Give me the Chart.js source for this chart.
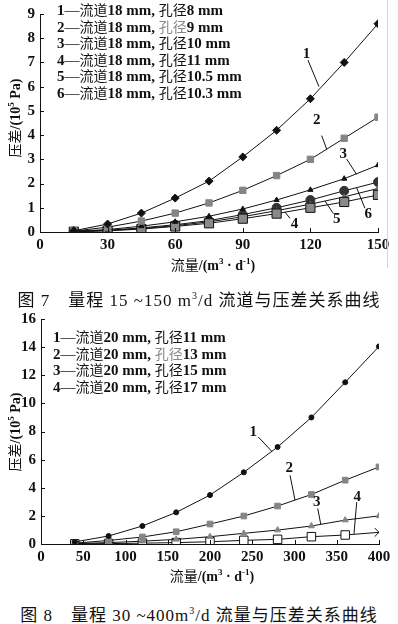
<!DOCTYPE html>
<html lang="zh">
<head>
<meta charset="UTF-8">
<title>流道与压差关系曲线</title>
<script src="https://cdn.jsdelivr.net/npm/chart.js"></script>
<style>
  body { margin: 0; background: #fff; }
  #page { position: relative; width: 398px; height: 624px; overflow: hidden;
          font-family: "Liberation Serif", "Noto Sans CJK SC", serif; color: #111; }
  canvas { position: absolute; left: 0; }
  .legend { position: absolute; font-size: 15px; line-height: 15.5px; white-space: nowrap; }
  .legend b { font-weight: bold; }
  .legend .cjk { font-family: "Noto Sans CJK SC"; font-weight: 400; font-size: 14px; }
  .ytitle { position: absolute; font-size: 14px; white-space: nowrap;
            transform: translate(-50%, -50%) rotate(-90deg); }
  .xtitle { position: absolute; font-size: 14px; white-space: nowrap; transform: translate(-50%, -50%); }
  .cap { position: absolute; left: 0; width: 398px; text-align: center; font-size: 17px; letter-spacing: 1px; white-space: nowrap; }
  .cap .cjk { font-family: "Noto Sans CJK SC"; }
</style>
</head>
<body>
<div id="page">
  <canvas id="fig7" width="398" height="275" style="top:0"></canvas>
  <canvas id="fig8" width="398" height="280" style="top:305px"></canvas>
  <div style="position:absolute;left:387px;top:0;width:1px;height:268px;background:#d4d4d4"></div>

  <div class="legend" id="leg7" style="left:57px;top:2px"></div>
  <div class="legend" id="leg8" style="left:53px;top:329px"></div>

  <div class="ytitle" style="left:14px;top:118px"><span style="font-family:'Noto Sans CJK SC'">压差</span><b>/(10<sup style="font-size:9px">5</sup> Pa)</b></div>
  <div class="ytitle" style="left:14px;top:432px"><span style="font-family:'Noto Sans CJK SC'">压差</span><b>/(10<sup style="font-size:9px">5</sup> Pa)</b></div>
  <div class="xtitle" style="left:213px;top:264px"><span style="font-family:'Noto Sans CJK SC'">流量</span><b>/(m<sup style="font-size:9px">3</sup> · d<sup style="font-size:9px">-1</sup>)</b></div>
  <div class="xtitle" style="left:212px;top:575px"><span style="font-family:'Noto Sans CJK SC'">流量</span><b>/(m<sup style="font-size:9px">3</sup> · d<sup style="font-size:9px">-1</sup>)</b></div>

  <div class="cap" style="top:286px"><span class="cjk">图</span> 7　<span class="cjk">量程</span> 15 ~150 m<sup style="font-size:10px">3</sup>/d <span class="cjk">流道与压差关系曲线</span></div>
  <div class="cap" style="top:601px"><span class="cjk">图</span> 8　<span class="cjk">量程</span> 30 ~400m<sup style="font-size:10px">3</sup>/d <span class="cjk">流量与压差关系曲线</span></div>
</div>

<script>
// 图7 数据
const flow7 = [15, 30, 45, 60, 75, 90, 105, 120, 135, 150];
const dp7_1 = [0.05, 0.33, 0.78, 1.4, 2.1, 3.1, 4.2, 5.5, 7.0, 8.6];
const dp7_2 = [0.04, 0.2, 0.45, 0.78, 1.2, 1.72, 2.33, 3.0, 3.87, 4.74];
const dp7_3 = [0.03, 0.1, 0.24, 0.42, 0.65, 0.95, 1.32, 1.74, 2.2, 2.76];
const dp7_4 = [0.01, 0.05, 0.12, 0.23, 0.36, 0.55, 0.76, 1.0, 1.24, 1.53];
const dp7_5 = [0.02, 0.06, 0.14, 0.26, 0.42, 0.63, 0.88, 1.15, 1.45, 1.8];
const dp7_6 = [0.02, 0.07, 0.17, 0.3, 0.47, 0.72, 1.0, 1.32, 1.7, 2.06];
const channel7 = '18';
const holes7 = ['8', '9', '10', '11', '10.5', '10.3'];
const xTicks7 = [0, 30, 60, 90, 120, 150];
const yTicks7 = [0, 1, 2, 3, 4, 5, 6, 7, 8, 9];

// 图8 数据
const flow8 = [40, 80, 120, 160, 200, 240, 280, 320, 360, 400];
const dp8_1 = [0.15, 0.57, 1.28, 2.25, 3.48, 5.1, 6.9, 9.0, 11.5, 14.05];
const dp8_2 = [0.06, 0.25, 0.5, 0.87, 1.42, 1.99, 2.7, 3.52, 4.54, 5.48];
const dp8_3 = [0.03, 0.1, 0.2, 0.33, 0.52, 0.76, 0.99, 1.28, 1.7, 2.0];
const dp8_4 = [0.01, 0.03, 0.06, 0.1, 0.16, 0.26, 0.33, 0.52, 0.64, 0.83];
const channel8 = '20';
const holes8 = ['11', '13', '15', '17'];
const xTicks8 = [0, 50, 100, 150, 200, 250, 300, 350, 400];
const yTicks8 = [0, 2, 4, 6, 8, 10, 12, 14, 16];

function legendHtml(channel, holes) {
  return holes.map((h, i) =>
    '<div><b>' + (i + 1) + '</b>—<span class="cjk">流道</span><b>' + channel + ' mm,</b> ' +
    '<span class="cjk"' + (i === 1 ? ' style="color:#888"' : '') + '>孔径</span><b>' + h + ' mm</b></div>'
  ).join('');
}
document.getElementById('leg7').innerHTML = legendHtml(channel7, holes7);
document.getElementById('leg8').innerHTML = legendHtml(channel8, holes8);

const pts = (xs, ys) => xs.map((x, i) => ({ x: x, y: ys[i] }));

// 轴内侧刻度 + 曲线编号引线
const marks = {
  id: 'marks',
  afterDraw(chart, args, opts) {
    const ctx = chart.ctx, xs = chart.scales.x, ys = chart.scales.y, a = chart.chartArea;
    ctx.save();
    ctx.strokeStyle = '#111';
    ctx.lineWidth = 1;
    ctx.beginPath();
    xs.ticks.forEach(t => { const p = Math.round(xs.getPixelForValue(t.value)) + 0.5; ctx.moveTo(p, a.bottom); ctx.lineTo(p, a.bottom - 4); });
    ys.ticks.forEach(t => { const p = Math.round(ys.getPixelForValue(t.value)) + 0.5; ctx.moveTo(a.left, p); ctx.lineTo(a.left + 4, p); });
    ctx.stroke();
    ctx.fillStyle = '#111';
    ctx.font = 'bold 15px "Liberation Serif"';
    ctx.textAlign = 'center';
    ctx.textBaseline = 'middle';
    (opts.items || []).forEach(n => {
      ctx.fillText(n.t, xs.getPixelForValue(n.at[0]), ys.getPixelForValue(n.at[1]));
      ctx.beginPath();
      ctx.moveTo(xs.getPixelForValue(n.from[0]), ys.getPixelForValue(n.from[1]));
      ctx.lineTo(xs.getPixelForValue(n.to[0]), ys.getPixelForValue(n.to[1]));
      ctx.stroke();
    });
    ctx.restore();
  }
};

function axes(xMax, yMax, xTicks, yTicks, axisW, axisH) {
  const tickFont = { family: '"Liberation Serif"', size: 15, weight: 'bold' };
  return {
    x: {
      type: 'linear', min: 0, max: xMax,
      afterBuildTicks: s => { s.ticks = xTicks.map(v => ({ value: v })); },
      afterFit: s => { s.height = axisH; },
      grid: { display: false, drawTicks: false },
      border: { color: '#111', width: 1 },
      ticks: { color: '#111', font: tickFont, padding: 4, maxRotation: 0 }
    },
    y: {
      type: 'linear', min: 0, max: yMax,
      afterBuildTicks: s => { s.ticks = yTicks.map(v => ({ value: v })); },
      afterFit: s => { s.width = axisW; },
      grid: { display: false, drawTicks: false },
      border: { color: '#111', width: 1 },
      ticks: { color: '#111', font: tickFont, padding: 5 }
    }
  };
}

function line(data, style, radius, fill, border) {
  return {
    data: data, borderColor: '#111', borderWidth: 1, tension: 0,
    pointStyle: style, pointRadius: radius, pointBackgroundColor: fill,
    pointBorderColor: border || fill, pointBorderWidth: 1
  };
}

new Chart(document.getElementById('fig7'), {
  type: 'line',
  data: {
    datasets: [
      line(pts(flow7, dp7_1), 'rectRot', 4, '#111'),
      line(pts(flow7, dp7_2), 'rect', 4.5, '#858585'),
      line(pts(flow7, dp7_3), 'triangle', 3, '#111'),
      line(pts(flow7, dp7_4), 'rect', 6.5, '#8a8a8a', '#111'),
      line(pts(flow7, dp7_5), 'triangle', 3, '#666'),
      line(pts(flow7, dp7_6), 'circle', 4.5, '#333')
    ]
  },
  options: {
    responsive: false, animation: false,
    layout: { padding: { top: 8, right: 20, left: 0, bottom: 0 } },
    scales: axes(150, 9, xTicks7, yTicks7, 40, 43),
    plugins: {
      legend: { display: false }, tooltip: { enabled: false },
      marks: { items: [
        { t: '1', at: [118.3, 7.34], from: [118.9, 7.1], to: [123.8, 6.0] },
        { t: '2', at: [122.8, 4.62], from: [125, 3.98], to: [127.2, 3.43] },
        { t: '3', at: [134.6, 3.23], from: [136.1, 3.01], to: [140.5, 2.38] },
        { t: '4', at: [112.9, 0.31], from: [111, 0.56], to: [108.7, 0.82] },
        { t: '5', at: [131.7, 0.55], from: [130.2, 0.76], to: [126.5, 1.28] },
        { t: '6', at: [145.7, 0.75], from: [144.2, 0.98], to: [140.5, 1.83] }
      ] }
    }
  },
  plugins: [marks]
});

new Chart(document.getElementById('fig8'), {
  type: 'line',
  data: {
    datasets: [
      line(pts(flow8, dp8_1), 'circle', 2.5, '#111'),
      line(pts(flow8, dp8_2), 'rect', 4, '#858585'),
      line(pts(flow8, dp8_3), 'triangle', 3.5, '#858585'),
      line(pts(flow8, dp8_4), ['rect', 'rect', 'rect', 'rect', 'rect', 'rect', 'rect', 'rect', 'rect', 'crossRot'], 6, '#fff', '#111')
    ]
  },
  options: {
    responsive: false, animation: false,
    layout: { padding: { top: 13, right: 19, left: 0, bottom: 0 } },
    scales: axes(400, 16, xTicks8, yTicks8, 41, 41),
    plugins: {
      legend: { display: false }, tooltip: { enabled: false },
      marks: { items: [
        { t: '1', at: [251.2, 7.96], from: [257.2, 7.61], to: [273, 6.6] },
        { t: '2', at: [293.8, 5.37], from: [294.7, 4.89], to: [300.6, 3.12] },
        { t: '3', at: [326.3, 3.0], from: [327.5, 2.53], to: [331, 1.42] },
        { t: '4', at: [374.3, 3.35], from: [373.6, 2.98], to: [370.4, 0.72] }
      ] }
    }
  },
  plugins: [marks]
});
</script>
</body>
</html>
